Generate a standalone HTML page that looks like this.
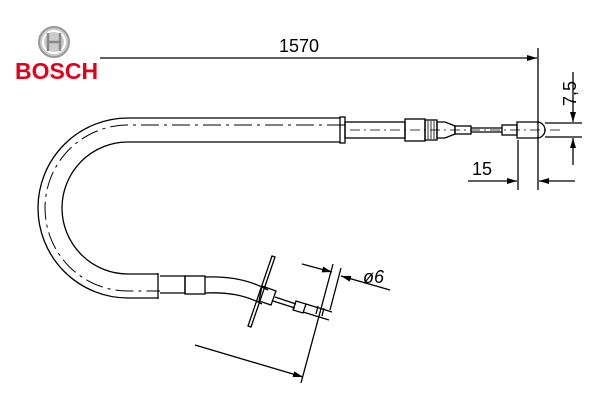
<!DOCTYPE html>
<html><head><style>body{margin:0;background:#fff}svg{display:block}</style></head><body>
<svg width="600" height="400" viewBox="0 0 600 400" xmlns="http://www.w3.org/2000/svg" font-family="Liberation Sans, sans-serif">
<defs><marker id="a" viewBox="0 0 10 6" refX="10" refY="3" markerWidth="10" markerHeight="6" orient="auto" markerUnits="userSpaceOnUse"><path d="M0,0L10,3L0,6z" fill="#000"/></marker></defs>
<circle cx="54" cy="42" r="15" fill="#ccc" stroke="#999" stroke-width="2"/>
<circle cx="54" cy="42" r="11" fill="none" stroke="#fff" stroke-width="2"/>
<path d="M48,33v18M60,33v18M48,42h12" stroke="#888" stroke-width="2.5" fill="none"/>
<text x="15" y="79" font-size="23" font-weight="bold" fill="#e2001a">BOSCH</text>
<g stroke="#000" fill="none" stroke-width="1.3">
<line x1="100" y1="58" x2="537" y2="58" marker-end="url(#a)"/>
<line x1="538" y1="48" x2="538" y2="190"/>
<line x1="518" y1="140" x2="518" y2="190"/>
<line x1="468" y1="181" x2="517" y2="181" marker-end="url(#a)"/>
<line x1="575" y1="181" x2="539" y2="181" marker-end="url(#a)"/>
<line x1="545" y1="123" x2="582" y2="123"/><line x1="545" y1="137" x2="582" y2="137"/>
<line x1="573" y1="72" x2="573" y2="122" marker-end="url(#a)"/>
<line x1="573" y1="165" x2="573" y2="138" marker-end="url(#a)"/>
<path d="M340,118H128A90,90 0 0 0 128,298H158"/>
<path d="M340,142H128A66,66 0 0 0 128,274H158"/>
<path d="M158,273V299"/>
<path d="M345,125H128A83,83 0 0 0 128,291H160" stroke-dasharray="18,5,3,5" stroke-width="1"/>
<rect x="340" y="117" width="5" height="26"/>
<rect x="345" y="122" width="60" height="16"/>
<rect x="405" y="119" width="20" height="22"/>
<rect x="425" y="120" width="12" height="20"/>
<path d="M428,121v18M431,121v18M434,121v18" stroke-width="0.8"/>
<path d="M437,122h8l10,4v8l-10,4h-8z"/>
<rect x="455" y="126" width="16" height="8"/>
<line x1="471" y1="128" x2="502" y2="128"/><line x1="471" y1="132" x2="502" y2="132"/>
<rect x="502" y="125" width="15" height="10"/>
<path d="M517,122h20a8,8 0 0 1 0,16h-20z"/>
<line x1="350" y1="130" x2="560" y2="130" stroke-dasharray="10,4,2,4" stroke-width="0.8"/>
<path d="M160,276H185V293H160"/>
<rect x="185" y="276" width="20" height="18"/>
<path d="M205,277C230,276 250,280 268,290M205,293C228,292 245,295 262,304"/>
<path d="M272,256L248,326l3,1L275,257z"/>
<path d="M262,286l14,5-5,14-12-4z"/>
<line x1="275" y1="297" x2="296" y2="304"/><line x1="273" y1="301" x2="295" y2="308"/>
<path d="M296,301l10,3-3,9-10-3z"/>
<path d="M306,304l26,8M303,312l26,8M318,306l-2,8M324,308l-2,8"/>
<line x1="333" y1="264" x2="301" y2="383"/>
<line x1="341" y1="268" x2="330" y2="310"/>
<line x1="302" y1="264" x2="332" y2="272" marker-end="url(#a)"/>
<line x1="390" y1="290" x2="341" y2="276" marker-end="url(#a)"/>
<line x1="195" y1="345" x2="303" y2="377" marker-end="url(#a)"/>
</g>
<text x="279" y="52" font-size="18">1570</text>
<text x="472" y="175" font-size="18">15</text>
<text transform="translate(576,106) rotate(-90)" font-size="18">7,5</text>
<text x="363" y="283" font-size="18" font-style="italic">ø6</text>
</svg>
</body></html>
